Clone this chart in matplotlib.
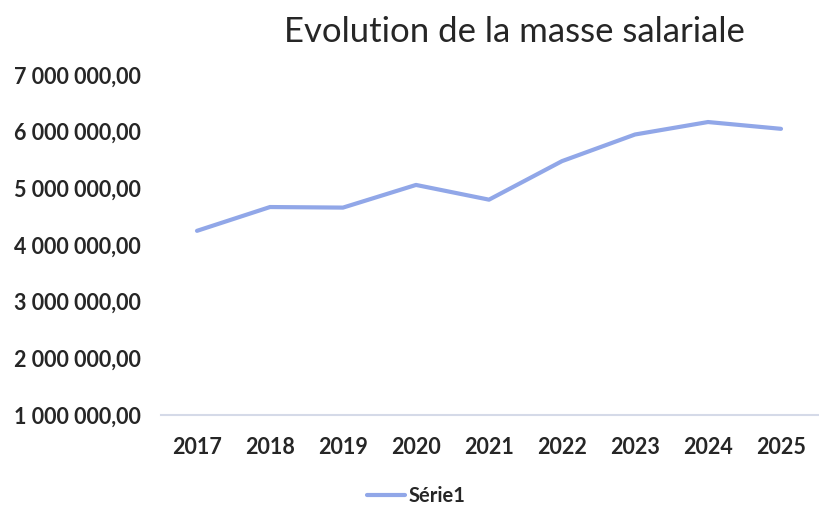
import matplotlib
matplotlib.use("Agg")
import matplotlib.pyplot as plt
from matplotlib.ticker import FuncFormatter

years = ["2017", "2018", "2019", "2020", "2021", "2022", "2023", "2024", "2025"]
masse = [4250000, 4670000, 4660000, 5060000, 4800000, 5480000, 5950000, 6170000, 6050000]
series_name = "Série1"
title = "Evolution de la masse salariale"
yticks = [1000000, 2000000, 3000000, 4000000, 5000000, 6000000, 7000000]

plt.rcParams['font.family'] = ['Lato', 'DejaVu Sans']

fig = plt.figure(figsize=(8.19, 5.17), dpi=100)
ax = fig.add_axes([160.5/819, 1-415/517, 657/819, 340/517])

x = list(range(len(years)))
ax.plot(x, masse, color='#91a7e8', lw=3.0, solid_capstyle='round', label=series_name)

ax.set_xlim(-0.5, len(years)-0.5)
ax.set_ylim(1000000, 7000000)
ax.set_xticks(x)
ax.set_xticklabels(years)
ax.set_yticks(yticks)

def fmt(v, pos):
    s = f"{int(round(v)):,}".replace(",", " ")
    return s + ",00"
ax.yaxis.set_major_formatter(FuncFormatter(fmt))

for s in ['top', 'right', 'left']:
    ax.spines[s].set_visible(False)
ax.spines['bottom'].set_color('#d5dae8')
ax.spines['bottom'].set_linewidth(1.5)
ax.tick_params(axis='both', length=0, labelsize=15.5, colors='#262626')
ax.tick_params(axis='x', pad=16)
ax.tick_params(axis='y', pad=14)
for lab in ax.get_xticklabels() + ax.get_yticklabels():
    lab.set_fontweight('bold')

fig.text(0.6276, 1-32/517, title, ha='center', va='center', fontsize=25, color='#262626')

leg = fig.legend(loc='center', bbox_to_anchor=(0.508, 1-496/517), frameon=False,
                 fontsize=14.5, handlelength=1.9, handletextpad=0.15)
for t in leg.get_texts():
    t.set_color('#262626')
    t.set_fontweight('bold')

fig.savefig("out.png", dpi=100)
